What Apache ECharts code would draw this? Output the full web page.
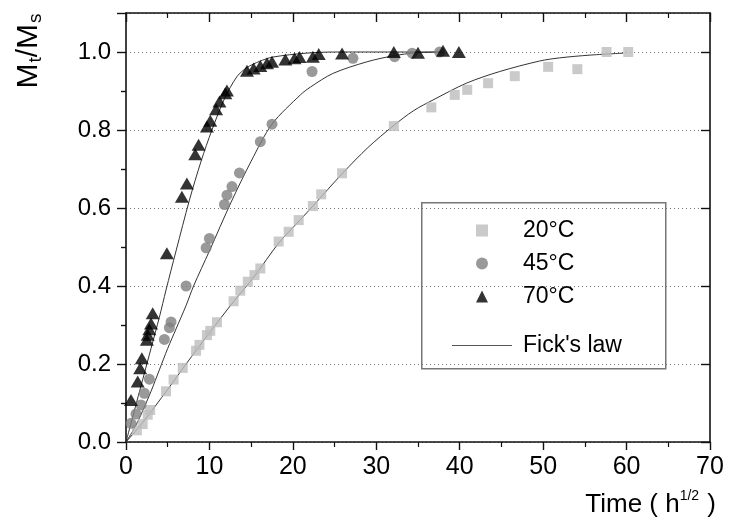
<!DOCTYPE html>
<html>
<head>
<meta charset="utf-8">
<script src="https://cdn.jsdelivr.net/npm/echarts@6/dist/echarts.min.js"></script>
<style>
html, body { margin: 0; padding: 0; background: #fff; }
#box { width: 729px; height: 531px; }
</style>
</head>
<body>
<div id="box"></div>
<script>
// measured points, [time (h^1/2), Mt/Ms]
var pts20 = [[1.3,0.03],[2.0,0.046],[2.6,0.07],[2.9,0.082],[4.8,0.13],[5.7,0.16],[6.8,0.19],[8.4,0.234],[8.8,0.249],[9.7,0.274],[10.1,0.285],[10.9,0.307],[12.9,0.361],[13.7,0.388],[14.6,0.411],[15.4,0.428],[16.1,0.445],[18.3,0.514],[19.5,0.539],[20.7,0.569],[22.4,0.605],[23.4,0.635],[25.9,0.689],[32.1,0.81],[36.6,0.858],[39.4,0.89],[40.9,0.903],[43.4,0.92],[46.6,0.938],[50.6,0.962],[54.1,0.956],[57.6,1.0],[60.2,1.0]];
var pts45 = [[0.6,0.048],[1.2,0.072],[1.8,0.095],[2.2,0.125],[2.8,0.161],[4.6,0.263],[5.2,0.293],[5.4,0.308],[7.2,0.40],[9.6,0.498],[10.0,0.522],[11.8,0.609],[12.1,0.633],[12.7,0.655],[13.6,0.69],[16.1,0.77],[17.5,0.815],[22.3,0.95],[27.2,0.984],[32.2,0.988],[34.3,0.997],[37.6,1.0]];
var pts70 = [[0.6,0.108],[1.4,0.155],[1.7,0.189],[1.9,0.215],[2.5,0.262],[2.6,0.275],[2.8,0.289],[3.0,0.304],[3.2,0.33],[4.9,0.484],[6.7,0.629],[7.3,0.663],[8.3,0.738],[8.7,0.762],[9.7,0.809],[10.1,0.824],[10.8,0.853],[11.2,0.873],[11.9,0.894],[12.1,0.901],[14.5,0.952],[15.3,0.958],[16.1,0.964],[16.9,0.971],[17.5,0.975],[19.1,0.981],[20.2,0.984],[20.8,0.987],[22.4,0.988],[23.1,0.995],[25.9,0.996],[32.1,1.0],[35.0,0.998],[38.0,1.003],[39.9,1.0]];

// Fick's law fits
var fick20 = [[0,0],[2,0.05],[5,0.135],[7.2,0.2],[10,0.28],[12.9,0.36],[15.4,0.425],[18.3,0.51],[20.9,0.57],[22.4,0.605],[26,0.69],[29,0.755],[32,0.81],[34.5,0.85],[36.8,0.877],[40.8,0.92],[44.8,0.95],[49.6,0.977],[52,0.985],[55.6,0.992],[59.6,0.997]];
var fick45 = [[0,0],[1,0.035],[2,0.08],[3,0.13],[4,0.185],[5,0.24],[6,0.29],[7.2,0.35],[8.1,0.4],[10,0.49],[12.6,0.615],[15,0.72],[17.5,0.815],[20.9,0.89],[22.1,0.91],[24.8,0.945],[28.9,0.975],[32,0.99],[34.8,0.998],[38,1.0]];
var fick70 = [[0,0],[1,0.08],[2,0.16],[3,0.24],[4,0.32],[4.8,0.39],[6,0.49],[7.6,0.62],[9,0.72],[10.3,0.8],[11.8,0.88],[13.3,0.937],[14.5,0.96],[16,0.976],[17.6,0.987],[21.6,0.997],[25,1.0],[38,1.0]];

var seriesNames = ['20°C', '45°C', '70°C'];
var fitName = "Fick's law";
var yMajor = [0, 0.2, 0.4, 0.6, 0.8, 1.0];
var yMinor = [0.1, 0.3, 0.5, 0.7, 0.9];

var FONT = 'Liberation Sans, Arial, sans-serif';
var AXLINE = { color: '#111', width: 1.6 };

var chart = echarts.init(document.getElementById('box'));

function fitLine(d) {
	return {
		name: fitName, type: 'line', data: d, smooth: 0.3, symbol: 'none',
		itemStyle: { color: '#444' },
		lineStyle: { color: '#333', width: 1 }, z: 1, silent: true
	};
}

var option = {
	animation: false,
	backgroundColor: '#fff',
	grid: { left: 126, right: 19, top: 13, bottom: 89 },
	xAxis: [
		{
			type: 'value', min: 0, max: 70, interval: 10, position: 'bottom',
			axisLine: { show: true, onZero: false, lineStyle: AXLINE },
			axisTick: { show: true, length: 8, lineStyle: { color: '#111', width: 1.4 } },
			minorTick: { show: true, splitNumber: 2, length: 5, lineStyle: { color: '#111', width: 1.2 } },
			axisLabel: { color: '#000', fontSize: 25, fontFamily: FONT, margin: 13 },
			splitLine: { show: false }
		},
		{
			type: 'value', min: 0, max: 70, interval: 10, position: 'top',
			axisLine: { show: true, onZero: false, lineStyle: AXLINE },
			axisTick: { show: true, inside: true, length: 9, lineStyle: { color: '#111', width: 1.4 } },
			minorTick: { show: true, splitNumber: 2, length: 5, lineStyle: { color: '#111', width: 1.2 } },
			axisLabel: { show: false },
			splitLine: { show: false }
		}
	],
	yAxis: [
		{
			type: 'value', min: 0, max: 1.1, interval: 0.2, position: 'left',
			axisLine: { show: true, onZero: false, lineStyle: AXLINE },
			axisTick: { show: true, length: 9, lineStyle: { color: '#111', width: 1.4 } },
			axisLabel: {
				color: '#000', fontSize: 24, fontFamily: FONT, margin: 15,
				customValues: yMajor,
				formatter: function (v) { return v.toFixed(1); }
			},
			splitLine: { show: true, lineStyle: { color: '#777', width: 1, type: [1, 3] } }
		},
		{
			type: 'value', min: 0, max: 1.1, position: 'left',
			axisLine: { show: false },
			axisTick: { show: true, length: 5, customValues: yMinor, lineStyle: { color: '#111', width: 1.2 } },
			axisLabel: { show: false },
			splitLine: { show: false }
		},
		{
			type: 'value', min: 0, max: 1.1, interval: 0.2, position: 'right',
			axisLine: { show: true, onZero: false, lineStyle: AXLINE },
			axisTick: { show: true, inside: true, length: 9, customValues: yMajor, lineStyle: { color: '#111', width: 1.4 } },
			axisLabel: { show: false },
			splitLine: { show: false }
		},
		{
			type: 'value', min: 0, max: 1.1, position: 'right',
			axisLine: { show: false },
			axisTick: { show: true, inside: true, length: 5, customValues: yMinor, lineStyle: { color: '#111', width: 1.2 } },
			axisLabel: { show: false },
			splitLine: { show: false }
		}
	],
	legend: [
		{
			data: seriesNames, orient: 'vertical', left: 471, top: 214,
			itemWidth: 12, itemHeight: 12, itemGap: 10,
			textStyle: { color: '#000', fontSize: 23, fontFamily: FONT, lineHeight: 23, padding: [0, 0, 0, 30] }
		},
		{
			data: [{ name: fitName, icon: 'rect' }], orient: 'vertical', left: 447, top: 329,
			itemWidth: 60, itemHeight: 1,
			itemStyle: { color: '#555' },
			textStyle: { color: '#000', fontSize: 23, fontFamily: FONT, lineHeight: 23, padding: [0, 0, 0, 6] }
		}
	],
	graphic: [
		{
			type: 'rect', left: 421, top: 202, z: 50, silent: true,
			shape: { width: 244, height: 166 },
			style: { fill: 'rgba(0,0,0,0)', stroke: '#777', lineWidth: 1.5 }
		},
		{
			type: 'text', x: 29, y: 51, rotation: Math.PI / 2, silent: true,
			style: {
				text: '{m|M}{s|t}{m|/M}{s|s}',
				align: 'center', verticalAlign: 'middle', fill: '#000',
				rich: {
					m: { fontSize: 30, fontFamily: FONT, fill: '#000' },
					s: { fontSize: 19, fontFamily: FONT, fill: '#000', padding: [13, 0, 0, 1] }
				}
			}
		},
		{
			type: 'text', x: 716, y: 505, silent: true,
			style: {
				text: 'Time ( h{s|1/2} )',
				align: 'right', verticalAlign: 'middle', fill: '#000',
				fontSize: 26, fontFamily: FONT,
				rich: {
					s: { fontSize: 14, fontFamily: FONT, fill: '#000', padding: [0, 1, 17, 0] }
				}
			}
		}
	],
	series: [
		fitLine(fick20),
		fitLine(fick45),
		fitLine(fick70),
		{
			name: seriesNames[0], type: 'scatter', data: pts20, symbol: 'rect', symbolSize: 10,
			itemStyle: { color: '#bdbdbd' }, z: 3
		},
		{
			name: seriesNames[1], type: 'scatter', data: pts45, symbol: 'circle', symbolSize: 11,
			itemStyle: { color: '#808080' }, z: 4
		},
		{
			name: seriesNames[2], type: 'scatter', data: pts70, symbol: 'triangle', symbolSize: [14, 12],
			itemStyle: { color: '#000' }, z: 5
		}
	]
};
chart.setOption(option);
</script>
</body>
</html>
